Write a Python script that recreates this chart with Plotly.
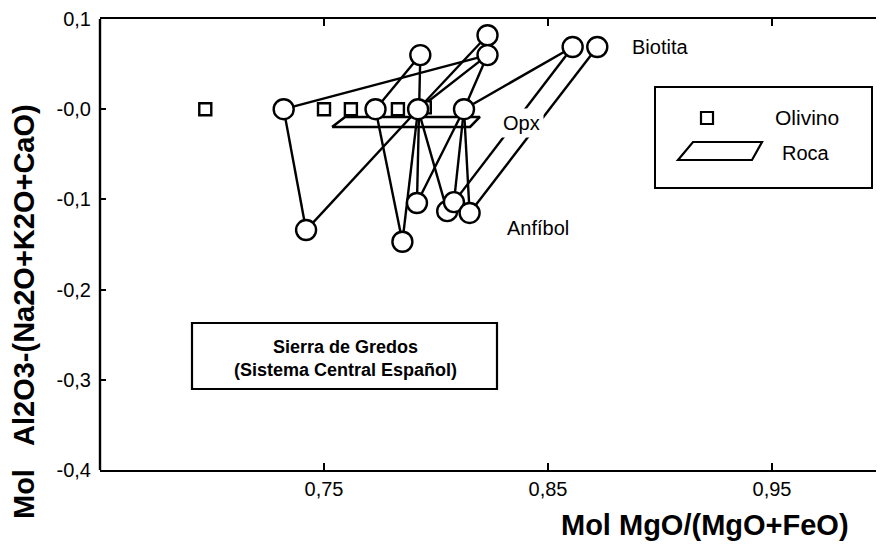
import plotly.graph_objects as go

# ---------------- data ----------------
# Olivino (squares)
olivino_x = [0.697, 0.750, 0.762, 0.783, 0.795]
olivino_y = [0.000, 0.000, 0.000, 0.000, 0.002]

# mineral compositions (circles): A..O
mineral_names = ["A", "B", "C", "D", "E", "F", "G", "H", "I", "J", "K", "L", "M", "N", "O"]
mineral_x = [0.732, 0.773, 0.792, 0.8125, 0.793, 0.823, 0.823, 0.861, 0.872,
             0.742, 0.785, 0.7915, 0.805, 0.808, 0.815]
mineral_y = [0.000, 0.000, 0.000, 0.000, 0.060, 0.082, 0.060, 0.069, 0.069,
             -0.134, -0.147, -0.104, -0.113, -0.103, -0.115]

# tie lines between compositions (pairs of names)
tie_lines = [("A", "G"), ("A", "J"), ("J", "C"), ("B", "E"), ("B", "K"),
             ("C", "K"), ("E", "L"), ("C", "F"), ("C", "G"), ("D", "G"),
             ("D", "H"), ("H", "N"), ("I", "O"), ("C", "M"), ("D", "L"),
             ("D", "N"), ("D", "O")]

# Roca field (parallelogram)
roca_x = [0.7536, 0.7594, 0.8196, 0.8152, 0.7536]
roca_y = [-0.0197, -0.0086, -0.0086, -0.0197, -0.0197]

x_ticks = [0.75, 0.85, 0.95]
x_ticktext = ["0,75", "0,85", "0,95"]
y_ticks = [0.1, 0.0, -0.1, -0.2, -0.3, -0.4]
y_ticktext = ["0,1", "-0,0", "-0,1", "-0,2", "-0,3", "-0,4"]

# ---------------- figure ----------------
OFF = 8                      # page body margin of the html page
W, H = 884 - OFF, 545 - OFF
ML, MR, MT, MB = 100 - OFF, 0, 19 - OFF, 75
PW, PH = W - ML - MR, H - MT - MB


def px(xp):                  # window pixel -> paper x
    return (xp - OFF - ML) / PW


def py(yp):                  # window pixel -> paper y
    return (H + OFF - MB - yp) / PH


FONT = "Arial, Liberation Sans, Helvetica, sans-serif"
TXT = 20
fig = go.Figure()

idx = {n: i for i, n in enumerate(mineral_names)}
for a, b in tie_lines:
    fig.add_trace(go.Scatter(
        x=[mineral_x[idx[a]], mineral_x[idx[b]]],
        y=[mineral_y[idx[a]], mineral_y[idx[b]]],
        mode="lines", line=dict(color="black", width=2.4),
        showlegend=False, hoverinfo="skip"))

fig.add_trace(go.Scatter(x=roca_x, y=roca_y, mode="lines",
                         line=dict(color="black", width=2.6),
                         showlegend=False, hoverinfo="skip"))

fig.add_trace(go.Scatter(x=olivino_x, y=olivino_y, mode="markers",
                         marker=dict(symbol="square", size=12, color="white",
                                     line=dict(color="black", width=2.4)),
                         showlegend=False))

fig.add_trace(go.Scatter(x=mineral_x, y=mineral_y, mode="markers",
                         marker=dict(symbol="circle", size=20, color="white",
                                     line=dict(color="black", width=2.4)),
                         showlegend=False))

shapes = []
# left axis line
shapes.append(dict(type="line", xref="paper", yref="paper", x0=0, x1=0, y0=0, y1=1,
                   line=dict(color="black", width=2.4)))
# legend box
shapes.append(dict(type="rect", xref="paper", yref="paper",
                   x0=px(655), x1=px(872), y0=py(188), y1=py(87),
                   line=dict(color="black", width=2)))
# legend Roca symbol
shapes.append(dict(type="path", xref="paper", yref="paper",
                   path=f"M {px(678)} {py(160)} L {px(693)} {py(142)} L {px(762)} {py(142)} L {px(752)} {py(160)} Z",
                   line=dict(color="black", width=2.2)))
# legend Olivino symbol
shapes.append(dict(type="rect", xref="paper", yref="paper",
                   x0=px(701), x1=px(713), y0=py(124), y1=py(112),
                   line=dict(color="black", width=2.2)))
# Sierra de Gredos box
shapes.append(dict(type="rect", xref="paper", yref="paper",
                   x0=px(192), x1=px(497), y0=py(389), y1=py(323),
                   line=dict(color="black", width=2.2)))

ann = []
ann.append(dict(x=px(773), y=py(118), xref="paper", yref="paper", text="Olivino",
                showarrow=False, xanchor="left", yanchor="middle",
                font=dict(family=FONT, size=TXT + 1, color="black")))
ann.append(dict(x=px(780), y=py(153), xref="paper", yref="paper", text="Roca",
                showarrow=False, xanchor="left", yanchor="middle",
                font=dict(family=FONT, size=TXT, color="black")))
ann.append(dict(x=0.8866, y=0.069, text="Biotita", showarrow=False,
                xanchor="left", yanchor="middle",
                font=dict(family=FONT, size=TXT, color="black")))
ann.append(dict(x=0.838, y=-0.0153, text="Opx", showarrow=False,
                xanchor="center", yanchor="middle", bgcolor="white", borderpad=3,
                font=dict(family=FONT, size=TXT, color="black")))
ann.append(dict(x=0.8455, y=-0.1317, text="Anfíbol", showarrow=False,
                xanchor="center", yanchor="middle",
                font=dict(family=FONT, size=TXT, color="black")))
ann.append(dict(x=px(345), y=py(358), xref="paper", yref="paper",
                text="<b>Sierra de Gredos</b><br><b>(Sistema Central Español)</b>",
                showarrow=False, xanchor="center", yanchor="middle",
                font=dict(family=FONT, size=18, color="black")))
# axis titles
ann.append(dict(x=px(705), y=py(525), xref="paper", yref="paper",
                text="<b>Mol MgO/(MgO+FeO)</b>", showarrow=False,
                xanchor="center", yanchor="middle",
                font=dict(family=FONT, size=29, color="black")))
ann.append(dict(x=px(24), y=py(312), xref="paper", yref="paper",
                text="<b>Mol   Al2O3-(Na2O+K2O+CaO)</b>", showarrow=False,
                textangle=-90, xanchor="center", yanchor="middle",
                font=dict(family=FONT, size=29, color="black")))

fig.update_layout(
    width=W, height=H,
    margin=dict(l=ML, r=MR, t=MT, b=MB),
    paper_bgcolor="white", plot_bgcolor="white",
    showlegend=False,
    shapes=shapes, annotations=ann,
    xaxis=dict(range=[0.65, 1.0], tickvals=x_ticks, ticktext=x_ticktext,
               showline=True, linecolor="black", linewidth=2.4, mirror="ticks",
               ticks="inside", ticklen=7, tickwidth=2, tickcolor="black",
               showgrid=False, zeroline=False, ticklabelstandoff=0,
               tickfont=dict(family=FONT, size=TXT, color="black")),
    yaxis=dict(range=[-0.4, 0.1], tickvals=y_ticks, ticktext=y_ticktext,
               showline=False, mirror="ticks",
               ticks="inside", ticklen=6, tickwidth=2, tickcolor="black",
               showgrid=False, zeroline=False, ticklabelstandoff=8,
               tickfont=dict(family=FONT, size=TXT, color="black")),
)

fig.write_html("out.html")
